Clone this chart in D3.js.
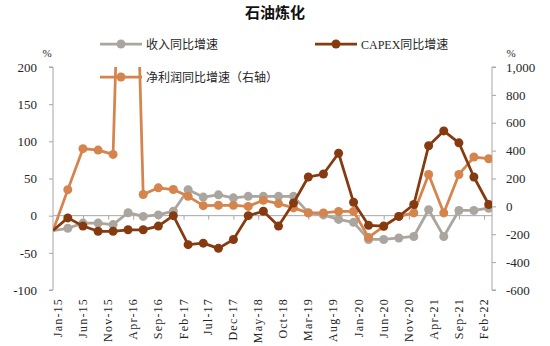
<!DOCTYPE html>
<html>
<head>
<meta charset="utf-8">
<script src="https://cdn.jsdelivr.net/npm/d3@7"></script>
<style>
  html, body { margin: 0; padding: 0; background: #fff; }
  svg { display: block; }
</style>
</head>
<body>
<svg id="chart" width="550" height="346"></svg>
<script>
// Quarterly periods (year-month)
const periods = [
  "2014-12","2015-03","2015-06","2015-09","2015-12","2016-03","2016-06","2016-09",
  "2016-12","2017-03","2017-06","2017-09","2017-12","2018-03","2018-06","2018-09",
  "2018-12","2019-03","2019-06","2019-09","2019-12","2020-03","2020-06","2020-09",
  "2020-12","2021-03","2021-06","2021-09","2021-12","2022-03"
];
// 收入同比增速 (%, left axis)
const revenueGrowth = [-20,-17,-10,-10,-12,4,-1,1,6,35,25,28,24,26,26,26,26,4,1,-5,-9,-32,-32,-30,-28,8,-28,7,7,10];
// CAPEX同比增速 (%, left axis)
const capexGrowth = [-20,-3,-14,-21,-21,-19,-19,-14,0,-39,-37,-44,-32,0,6,-14,17,52,56,84,18,-13,-14,-1,15,94,114,98,52,15];
// 净利润同比增速 (%, right axis)
const profitGrowth = [-175,120,414,404,373,4000,85,133,121,72,5,8,8,0,44,20,-11,-47,-47,-36,-36,-223,-144,-72,-47,229,-47,229,354,342];

// Axis ticks
const xTickLabels = ["Jan-15","Jun-15","Nov-15","Apr-16","Sep-16","Feb-17","Jul-17","Dec-17","May-18",
  "Oct-18","Mar-19","Aug-19","Jan-20","Jun-20","Nov-20","Apr-21","Sep-21","Feb-22"];
const leftTicks = [200,150,100,50,0,-50,-100];
const rightTicks = [1000,800,600,400,200,0,-200,-400,-600];

const title = "石油炼化";
const seriesNames = ["收入同比增速","CAPEX同比增速","净利润同比增速（右轴）"];
const colors = { revenue: "#aaa69f", capex: "#863a10", profit: "#d4844c" };

const svg = d3.select("#chart");
const plot = { left: 53, right: 492, top: 67, bottom: 290 };

const parseYM = d3.timeParse("%Y-%m");
const parseLabel = d3.timeParse("%b-%y");
const dates = periods.map(parseYM);

const x = d3.scaleTime()
  .domain([parseYM("2014-12"), new Date(2022, 2, 21)])
  .range([plot.left, plot.right]);
const yL = d3.scaleLinear().domain([-100, 200]).range([plot.bottom, plot.top]);
const yR = d3.scaleLinear().domain([-600, 1000]).range([plot.bottom, plot.top]);

const axisColor = "#a6a6a6";
const textColor = "#262626";
const serif = "'Liberation Serif', 'Times New Roman', serif";
const cjk = "'Noto Sans CJK SC', sans-serif";
const hyphenate = s => s.replace("\u2212", "-");

// Title
svg.append("text")
  .attr("x", 275).attr("y", 18)
  .attr("text-anchor", "middle")
  .attr("font-family", cjk).attr("font-weight", "bold").attr("font-size", 15)
  .attr("fill", "#111")
  .text(title);

// Left axis
const leftAxis = svg.append("g")
  .attr("transform", `translate(${plot.left},0)`)
  .call(d3.axisLeft(yL).tickValues(leftTicks).tickSize(4).tickPadding(12)
    .tickFormat(d => hyphenate(d3.format("d")(d))));
leftAxis.select(".domain").attr("stroke", axisColor).attr("d", `M-4,${plot.top}H0V${plot.bottom}H-4`);
leftAxis.selectAll(".tick line").attr("stroke", axisColor);
leftAxis.selectAll(".tick text").attr("font-family", serif).attr("font-size", 13).attr("fill", textColor);

// Right axis
const rightAxis = svg.append("g")
  .attr("transform", `translate(${plot.right},0)`)
  .call(d3.axisRight(yR).tickValues(rightTicks).tickSize(4).tickPadding(10)
    .tickFormat(d => hyphenate(d3.format(",d")(d))));
rightAxis.select(".domain").attr("stroke", axisColor).attr("d", `M4,${plot.top}H0V${plot.bottom}H4`);
rightAxis.selectAll(".tick line").attr("stroke", axisColor);
rightAxis.selectAll(".tick text").attr("font-family", serif).attr("font-size", 13).attr("fill", textColor);

// Unit labels
svg.append("text").attr("x", 47).attr("y", 57).attr("text-anchor", "middle")
  .attr("font-family", serif).attr("font-size", 11).attr("fill", textColor).text("%");
svg.append("text").attr("x", 511).attr("y", 57).attr("text-anchor", "middle")
  .attr("font-family", serif).attr("font-size", 11).attr("fill", textColor).text("%");

// Category axis on the left zero line
const tickDates = xTickLabels.map(parseLabel);
const xAxis = svg.append("g")
  .attr("transform", `translate(0,${yL(0)})`)
  .call(d3.axisBottom(x).tickValues(tickDates).tickSize(4).tickFormat(""));
xAxis.select(".domain").attr("stroke", axisColor).attr("d", `M${plot.left},0H${plot.right}`);
xAxis.selectAll(".tick line").attr("stroke", axisColor);

// Rotated date labels below the plot
svg.append("g").selectAll("text")
  .data(xTickLabels)
  .join("text")
  .attr("transform", (d, i) => `translate(${x(tickDates[i]) + 4},${plot.bottom + 8}) rotate(-90)`)
  .attr("text-anchor", "end")
  .attr("font-family", serif).attr("font-size", 12).attr("letter-spacing", 1.2)
  .attr("fill", textColor)
  .text(d => d);

// Clip series to the plot area
svg.append("clipPath").attr("id", "plot-clip")
  .append("rect")
  .attr("x", plot.left).attr("y", plot.top)
  .attr("width", plot.right - plot.left).attr("height", plot.bottom - plot.top);

const seriesLayer = svg.append("g").attr("clip-path", "url(#plot-clip)");

function drawSeries(values, yScale, color) {
  const pts = values.map((v, i) => ({ d: dates[i], v, i }));
  const line = d3.line().x(p => x(p.d)).y(p => yScale(p.v));
  seriesLayer.append("path")
    .datum(pts)
    .attr("fill", "none")
    .attr("stroke", color)
    .attr("stroke-width", 2.75)
    .attr("stroke-linejoin", "round")
    .attr("d", line);
  seriesLayer.append("g").selectAll("circle")
    .data(pts.filter(p => p.i > 0))
    .join("circle")
    .attr("cx", p => x(p.d))
    .attr("cy", p => yScale(p.v))
    .attr("r", 4.5)
    .attr("fill", color);
}

drawSeries(revenueGrowth, yL, colors.revenue);
drawSeries(profitGrowth, yR, colors.profit);
drawSeries(capexGrowth, yL, colors.capex);

// Legend
const legendItems = [
  { name: seriesNames[0], color: colors.revenue, x: 100, y: 44 },
  { name: seriesNames[1], color: colors.capex, x: 315, y: 44 },
  { name: seriesNames[2], color: colors.profit, x: 100, y: 77 }
];
const legend = svg.append("g");
legendItems.forEach(item => {
  const g = legend.append("g").attr("transform", `translate(${item.x},${item.y})`);
  g.append("line").attr("x1", 0).attr("x2", 42).attr("y1", 0).attr("y2", 0)
    .attr("stroke", item.color).attr("stroke-width", 2.75);
  g.append("circle").attr("cx", 21).attr("cy", 0).attr("r", 4.5).attr("fill", item.color);
  g.append("text").attr("x", 46).attr("y", 4.5)
    .attr("font-family", `${serif.split(",")[0]}, ${cjk}`)
    .attr("font-size", 12).attr("fill", textColor)
    .text(item.name);
});
</script>
</body>
</html>
